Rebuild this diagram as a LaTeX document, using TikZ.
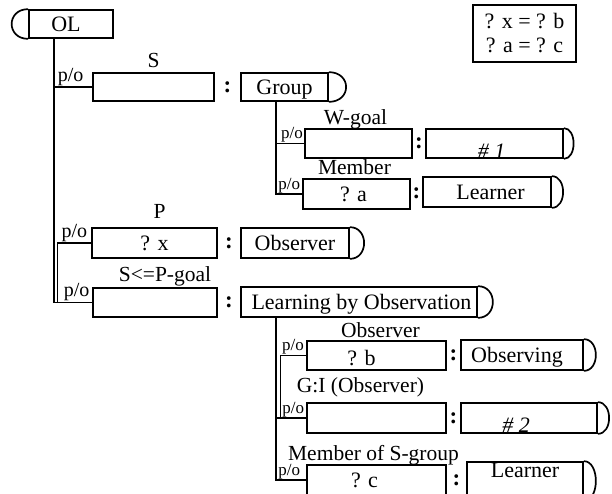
\documentclass[tikz,border=0pt]{standalone}
\usepackage{fontspec}
\setmainfont{Liberation Serif}
\newcommand\RCap[2]{\draw (#1.north east) .. controls ([xshift=#2]#1.north east) and ([xshift=#2]#1.south east) .. (#1.south east);}
\begin{document}
\begin{tikzpicture}[x=1pt,y=-1pt, line width=1.7pt,
 box/.style={draw, rectangle, inner sep=0pt, text height=15pt, text depth=0pt, font=\fontsize{22}{26}\selectfont},
 lbl/.style={anchor=base, inner sep=0pt, font=\fontsize{21.5}{24}\selectfont},
 po/.style={anchor=south west, inner sep=0.8pt, font=\fontsize{20}{22}\selectfont},
 spo/.style={anchor=south west, inner sep=0.3pt, font=\fontsize{17}{19}\selectfont},
 colon/.style={inner sep=0pt, font=\fontsize{23}{26}\selectfont\bfseries},
 note/.style={draw, inner sep=0pt, align=center, font=\fontsize{22}{24}\selectfont}]
\useasboundingbox (0,0) rectangle (612,493);
\clip (0,0) rectangle (612,493);

% nodes
\node[box, minimum width=84pt, minimum height=28pt] (OL) at (71,24) {\kern-10pt OL};
\node[box, minimum width=121pt, minimum height=28pt, label={[lbl,yshift=5pt]north:S}] (Sb) at (153.5,87) {};
\node[box, minimum width=87pt, minimum height=28pt] (Grp) at (284.5,87) {Group};
\node[box, minimum width=107pt, minimum height=29pt, label={[lbl,xshift=-3pt,yshift=4pt]north:W-goal}] (Wg) at (358.5,143.5) {};
\node[box, minimum width=137pt, minimum height=29pt] (H1) at (494.5,143.5) {\kern-6pt\raisebox{-7pt}{\itshape\# 1}};
\node[box, minimum width=107pt, minimum height=30pt, label={[lbl,xshift=-2pt,yshift=4pt]north:Member}] (Mem) at (356.5,194) {\kern-6pt ? a};
\node[box, minimum width=128pt, minimum height=30pt] (Lr1) at (487,192) {\kern7pt Learner};
\node[box, minimum width=125pt, minimum height=30pt, label={[lbl,xshift=5pt,yshift=9pt]north:P}] (Pb) at (154.5,243) {? x};
\node[box, minimum width=108pt, minimum height=30pt] (ObsR) at (295,243) {Observer};
\node[box, minimum width=124pt, minimum height=29pt, label={[lbl,xshift=10pt,yshift=6pt]north:S<=P-goal}] (SP) at (155,302.5) {};
\node[box, minimum width=236pt, minimum height=30pt] (LbO) at (359,302) {\kern5pt Learning by Observation};
\node[box, minimum width=139pt, minimum height=29pt, label={[lbl,xshift=4pt,yshift=3pt]north:Observer}] (ObB) at (376.5,355.5) {\kern-30pt\raisebox{-2pt}{? b}};
\node[box, minimum width=122pt, minimum height=30pt] (Obsg) at (522,355) {\kern-10pt Observing};
\node[box, minimum width=139pt, minimum height=30pt, label={[lbl,xshift=-16pt,yshift=10pt]north:G:I (Observer)}] (GI) at (376.5,418) {};
\node[box, minimum width=136pt, minimum height=30pt] (H2) at (529,418) {\kern-26pt\raisebox{-7pt}{\itshape\# 2}};
\node[box, minimum width=139pt, minimum height=30pt, label={[lbl,xshift=-3pt,yshift=4pt]north:Member of S-group}] (MS) at (376.5,480) {\kern-24pt ? c};
\node[box, minimum width=116pt, minimum height=38pt] (Lr2) at (525,481) {\raisebox{11pt}{Learner}};
\node[note, minimum width=103pt, minimum height=57pt] (note) at (524.5,33.5) {? x = ? b\\? a = ? c};

% caps
\draw (OL.north west) .. controls ([xshift=-22pt]OL.north west) and ([xshift=-22pt]OL.south west) .. (OL.south west);
\RCap{Grp}{23pt}
\RCap{H1}{13pt}
\RCap{Lr1}{15pt}
\RCap{ObsR}{19pt}
\RCap{LbO}{20pt}
\RCap{Obsg}{16pt}
\RCap{H2}{15pt}
\RCap{Lr2}{16pt}

% colons
\path (Sb) -- node[colon] {:} (Grp);
\path (Wg) -- node[colon] {:} (H1);
\path (Mem) -- node[colon] {:} (Lr1);
\path (Pb) -- node[colon] {:} (ObsR);
\path (SP) -- node[colon] {:} (LbO);
\path (ObB) -- node[colon] {:} (Obsg);
\path (GI) -- node[colon] {:} (H2);
\path (MS) -- node[colon] {:} (Lr2);

% connectors
\coordinate (T) at ([xshift=26pt]OL.south west);
\draw (T) |- node[po, pos=0.5, xshift=2pt] {p/o} (Sb.west);
\draw (T) |- node[po, pos=0.5, xshift=8pt] {p/o} (SP.west);
\draw[line width=1.2pt] (Pb.west) -| node[po, pos=0.5, xshift=3pt] {p/o} ([xshift=-35pt]SP.west);

\coordinate (G) at ([xshift=36pt]Grp.south west);
\draw[line width=1.2pt] (G) |- node[spo, pos=0.5, xshift=4pt] {p/o} (Wg.west);
\draw (G) |- node[spo, pos=0.5, xshift=1pt] {p/o} (Mem.west);

\coordinate (L) at ([xshift=36pt]LbO.south west);
\draw[line width=1.2pt] (ObB.west) -| node[spo, pos=0.5, xshift=1pt] {p/o} ([xshift=-26pt]GI.west);
\draw (L) |- node[spo, pos=0.5, xshift=5pt] {p/o} (GI.west);
\draw (L) |- node[spo, pos=0.5, xshift=1pt] {p/o} (MS.west);
\end{tikzpicture}
\end{document}
